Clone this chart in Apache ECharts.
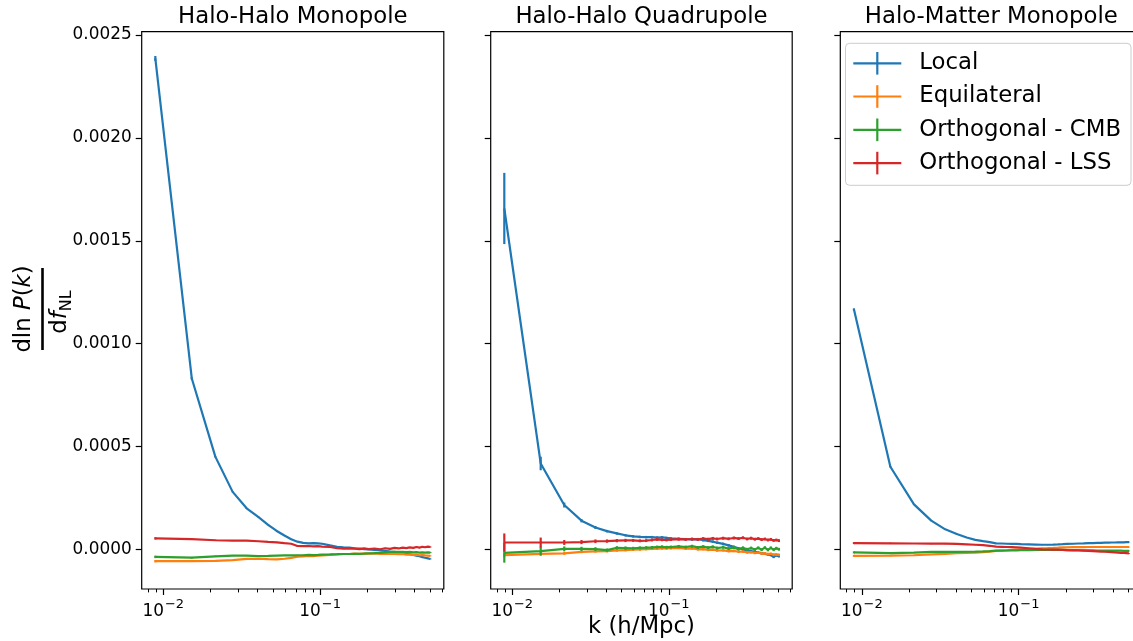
<!DOCTYPE html>
<html><head><meta charset="utf-8">
<script src="https://cdn.jsdelivr.net/npm/echarts@6/dist/echarts.min.js"></script>
<style>html,body{margin:0;padding:0;background:#fff}#c{width:1133px;height:641px}</style>
</head><body><div id="c"></div>
<script>
// ---------------- data ----------------
const kValues = [0.0089, 0.0152, 0.0215, 0.0277, 0.0340, 0.0403, 0.0466, 0.0529, 0.0592, 0.0654,
  0.0717, 0.0780, 0.0843, 0.0906, 0.0968, 0.1031, 0.1157, 0.1282, 0.1408, 0.1534,
  0.1659, 0.1785, 0.1910, 0.2036, 0.2224, 0.2413, 0.2601, 0.2790, 0.2978, 0.3167,
  0.3355, 0.3544, 0.3732, 0.3921, 0.4109, 0.4298, 0.4486, 0.4675, 0.4863, 0.5052];
const panelTitles = ['Halo-Halo Monopole', 'Halo-Halo Quadrupole', 'Halo-Matter Monopole'];
const seriesNames = ['Local', 'Equilateral', 'Orthogonal - CMB', 'Orthogonal - LSS'];
const yTickValues = [0, 0.0005, 0.0010, 0.0015, 0.0020, 0.0025];
const xMajorTicks = [0.01, 0.1];
const xMinorTicks = [0.008, 0.009, 0.02, 0.03, 0.04, 0.05, 0.06, 0.07, 0.08, 0.09, 0.2, 0.3, 0.4, 0.5, 0.6];

// Panel 1: Halo-Halo Monopole
const hhMonoLocal = [0.002386, 0.000831, 0.000450, 0.000280, 0.000200, 0.000158, 0.000120, 0.000090, 0.000068, 0.000050,
  0.000038, 0.000032, 0.000030, 0.000031, 0.000030, 0.000028, 0.000020, 0.000013, 0.000010, 0.000009,
  0.000006, 0.000004, 0.000002, 0.000000, -0.000002, -0.000004, -0.000007, -0.000010, -0.000012, -0.000015,
  -0.000017, -0.000020, -0.000023, -0.000027, -0.000030, -0.000033, -0.000037, -0.000040, -0.000043, -0.000046];
const hhMonoEquil = [-0.000057, -0.000057, -0.000055, -0.000052, -0.000046, -0.000045, -0.000047, -0.000048, -0.000045, -0.000041,
  -0.000035, -0.000034, -0.000031, -0.000032, -0.000030, -0.000029, -0.000026, -0.000024, -0.000022, -0.000022,
  -0.000020, -0.000021, -0.000019, -0.000020, -0.000019, -0.000021, -0.000020, -0.000022, -0.000021, -0.000023,
  -0.000022, -0.000025, -0.000024, -0.000026, -0.000025, -0.000028, -0.000027, -0.000029, -0.000030, -0.000031];
const hhMonoOrthoCMB = [-0.000036, -0.000040, -0.000033, -0.000030, -0.000030, -0.000032, -0.000031, -0.000030, -0.000029, -0.000029,
  -0.000028, -0.000028, -0.000026, -0.000027, -0.000026, -0.000025, -0.000024, -0.000023, -0.000022, -0.000022,
  -0.000021, -0.000021, -0.000020, -0.000019, -0.000018, -0.000016, -0.000014, -0.000012, -0.000011, -0.000012,
  -0.000011, -0.000013, -0.000012, -0.000014, -0.000013, -0.000015, -0.000014, -0.000015, -0.000014, -0.000015];
const hhMonoOrthoLSS = [0.000054, 0.000050, 0.000045, 0.000043, 0.000043, 0.000040, 0.000037, 0.000035, 0.000031, 0.000028,
  0.000017, 0.000016, 0.000017, 0.000015, 0.000016, 0.000014, 0.000012, 0.000006, 0.000004, 0.000005,
  0.000004, 0.000002, 0.000005, 0.000002, 0.000004, 0.000001, 0.000006, 0.000003, 0.000008, 0.000005,
  0.000009, 0.000007, 0.000010, 0.000008, 0.000012, 0.000009, 0.000013, 0.000011, 0.000014, 0.000012];
const hhMonoLocalErr = [0.000012, 0.000005, 0.000003, 0.000002, 0.000002, 0.000002, 0.000002, 0.000002, 0.000002, 0.000002,
  0.000002, 0.000002, 0.000002, 0.000002, 0.000002, 0.000002, 0.000002, 0.000002, 0.000002, 0.000002,
  0.000002, 0.000002, 0.000002, 0.000002, 0.000002, 0.000002, 0.000002, 0.000002, 0.000002, 0.000002,
  0.000002, 0.000002, 0.000002, 0.000002, 0.000002, 0.000002, 0.000002, 0.000002, 0.000002, 0.000002];
const hhMonoOtherErr = [0.000006, 0.000004, 0.000003, 0.000002, 0.000002, 0.000002, 0.000002, 0.000002, 0.000002, 0.000002,
  0.000002, 0.000002, 0.000002, 0.000002, 0.000002, 0.000002, 0.000002, 0.000002, 0.000002, 0.000002,
  0.000002, 0.000002, 0.000002, 0.000002, 0.000002, 0.000002, 0.000002, 0.000002, 0.000002, 0.000002,
  0.000002, 0.000002, 0.000002, 0.000002, 0.000002, 0.000002, 0.000002, 0.000002, 0.000002, 0.000002];

// Panel 2: Halo-Halo Quadrupole
const hhQuadLocal = [0.001657, 0.000418, 0.000216, 0.000140, 0.000107, 0.000089, 0.000078, 0.000069, 0.000064, 0.000061,
  0.000060, 0.000060, 0.000058, 0.000059, 0.000056, 0.000054, 0.000052, 0.000050, 0.000049, 0.000050,
  0.000045, 0.000042, 0.000038, 0.000033, 0.000027, 0.000020, 0.000013, 0.000006, 0.000000, -0.000004,
  -0.000008, -0.000011, -0.000015, -0.000018, -0.000021, -0.000024, -0.000027, -0.000036, -0.000029, -0.000033];
const hhQuadEquil = [-0.000027, -0.000021, -0.000019, -0.000012, -0.000009, -0.000008, -0.000005, -0.000003, -0.000001, 0.000000,
  0.000002, 0.000003, 0.000004, 0.000005, 0.000005, 0.000006, 0.000008, 0.000004, 0.000005, 0.000001,
  0.000002, -0.000002, -0.000001, -0.000005, -0.000004, -0.000008, -0.000007, -0.000011, -0.000010, -0.000014,
  -0.000013, -0.000017, -0.000016, -0.000020, -0.000019, -0.000022, -0.000021, -0.000025, -0.000024, -0.000026];
const hhQuadOrthoCMB = [-0.000016, -0.000008, 0.000003, 0.000003, 0.000002, -0.000003, 0.000008, 0.000007, 0.000006, 0.000008,
  0.000009, 0.000010, 0.000012, 0.000013, 0.000011, 0.000012, 0.000015, 0.000012, 0.000016, 0.000010,
  0.000014, 0.000009, 0.000013, 0.000007, 0.000011, 0.000004, 0.000009, 0.000002, 0.000008, 0.000001,
  0.000007, 0.000000, 0.000008, -0.000001, 0.000009, -0.000002, 0.000008, -0.000001, 0.000006, 0.000001];
const hhQuadOrthoLSS = [0.000034, 0.000034, 0.000034, 0.000036, 0.000040, 0.000041, 0.000043, 0.000044, 0.000044, 0.000042,
  0.000043, 0.000046, 0.000049, 0.000047, 0.000046, 0.000048, 0.000050, 0.000049, 0.000051, 0.000049,
  0.000053, 0.000050, 0.000054, 0.000051, 0.000055, 0.000052, 0.000056, 0.000053, 0.000057, 0.000051,
  0.000055, 0.000050, 0.000053, 0.000048, 0.000051, 0.000046, 0.000049, 0.000044, 0.000046, 0.000043];
const hhQuadLocalErr = [0.000173, 0.000033, 0.000012, 0.000008, 0.000007, 0.000006, 0.000006, 0.000006, 0.000006, 0.000006,
  0.000006, 0.000006, 0.000006, 0.000006, 0.000006, 0.000006, 0.000006, 0.000006, 0.000006, 0.000006,
  0.000006, 0.000006, 0.000006, 0.000006, 0.000006, 0.000006, 0.000006, 0.000006, 0.000006, 0.000006,
  0.000006, 0.000006, 0.000006, 0.000006, 0.000006, 0.000006, 0.000006, 0.000006, 0.000006, 0.000006];
const hhQuadEquilErr = [0.000010, 0.000008, 0.000007, 0.000006, 0.000006, 0.000006, 0.000006, 0.000006, 0.000006, 0.000006,
  0.000006, 0.000006, 0.000006, 0.000006, 0.000006, 0.000006, 0.000006, 0.000006, 0.000006, 0.000006,
  0.000006, 0.000006, 0.000006, 0.000006, 0.000006, 0.000006, 0.000006, 0.000006, 0.000006, 0.000006,
  0.000006, 0.000006, 0.000006, 0.000006, 0.000006, 0.000006, 0.000006, 0.000006, 0.000006, 0.000006];
const hhQuadOrthoCMBErr = [0.000048, 0.000022, 0.000012, 0.000010, 0.000009, 0.000008, 0.000008, 0.000008, 0.000007, 0.000007,
  0.000007, 0.000007, 0.000007, 0.000007, 0.000007, 0.000007, 0.000007, 0.000007, 0.000007, 0.000007,
  0.000007, 0.000007, 0.000007, 0.000007, 0.000007, 0.000007, 0.000007, 0.000007, 0.000007, 0.000007,
  0.000007, 0.000007, 0.000007, 0.000007, 0.000007, 0.000007, 0.000007, 0.000007, 0.000007, 0.000007];
const hhQuadOrthoLSSErr = [0.000044, 0.000024, 0.000012, 0.000010, 0.000009, 0.000008, 0.000008, 0.000008, 0.000007, 0.000007,
  0.000007, 0.000007, 0.000007, 0.000007, 0.000007, 0.000007, 0.000007, 0.000007, 0.000007, 0.000007,
  0.000007, 0.000007, 0.000007, 0.000007, 0.000007, 0.000007, 0.000007, 0.000007, 0.000007, 0.000007,
  0.000007, 0.000007, 0.000007, 0.000007, 0.000007, 0.000007, 0.000007, 0.000007, 0.000007, 0.000007];

// Panel 3: Halo-Matter Monopole
const hmMonoLocal = [0.001167, 0.000402, 0.000219, 0.000140, 0.000098, 0.000075, 0.000058, 0.000047, 0.000041, 0.000036,
  0.000030, 0.000029, 0.000028, 0.000027, 0.000027, 0.000026, 0.000025, 0.000024, 0.000023, 0.000023,
  0.000024, 0.000025, 0.000026, 0.000027, 0.000028, 0.000029, 0.000030, 0.000031, 0.000031, 0.000032,
  0.000032, 0.000033, 0.000033, 0.000034, 0.000034, 0.000035, 0.000035, 0.000035, 0.000036, 0.000036];
const hmMonoEquil = [-0.000031, -0.000030, -0.000028, -0.000024, -0.000021, -0.000018, -0.000016, -0.000015, -0.000013, -0.000010,
  -0.000007, -0.000005, -0.000004, -0.000002, -0.000001, 0.000000, 0.000002, 0.000004, 0.000006, 0.000007,
  0.000008, 0.000009, 0.000010, 0.000010, 0.000011, 0.000011, 0.000011, 0.000012, 0.000012, 0.000012,
  0.000012, 0.000012, 0.000012, 0.000012, 0.000012, 0.000012, 0.000012, 0.000012, 0.000012, 0.000012];
const hmMonoOrthoCMB = [-0.000014, -0.000018, -0.000015, -0.000012, -0.000011, -0.000012, -0.000011, -0.000010, -0.000009, -0.000008,
  -0.000006, -0.000006, -0.000005, -0.000004, -0.000004, -0.000003, -0.000003, -0.000002, -0.000002, -0.000002,
  -0.000002, -0.000002, -0.000002, -0.000003, -0.000003, -0.000003, -0.000004, -0.000004, -0.000004, -0.000005,
  -0.000005, -0.000005, -0.000005, -0.000006, -0.000006, -0.000006, -0.000006, -0.000007, -0.000007, -0.000007];
const hmMonoOrthoLSS = [0.000031, 0.000030, 0.000029, 0.000028, 0.000028, 0.000027, 0.000025, 0.000023, 0.000021, 0.000018,
  0.000014, 0.000013, 0.000012, 0.000011, 0.000010, 0.000009, 0.000006, 0.000003, 0.000001, 0.000000,
  -0.000001, -0.000001, -0.000002, -0.000003, -0.000004, -0.000005, -0.000006, -0.000007, -0.000008, -0.000009,
  -0.000010, -0.000011, -0.000012, -0.000013, -0.000014, -0.000015, -0.000016, -0.000017, -0.000018, -0.000019];
const hmMonoErr = [0.000005, 0.000003, 0.000002, 0.000002, 0.000002, 0.000002, 0.000002, 0.000002, 0.000002, 0.000002,
  0.000002, 0.000002, 0.000002, 0.000002, 0.000002, 0.000002, 0.000002, 0.000002, 0.000002, 0.000002,
  0.000002, 0.000002, 0.000002, 0.000002, 0.000002, 0.000002, 0.000002, 0.000002, 0.000002, 0.000002,
  0.000002, 0.000002, 0.000002, 0.000002, 0.000002, 0.000002, 0.000002, 0.000002, 0.000002, 0.000002];

// ---------------- layout / style ----------------
const COLORS = ['#1f77b4', '#ff7f0e', '#2ca02c', '#d62728'];
const FONT = '"DejaVu Sans", "Liberation Sans", sans-serif';
const X_MIN = 0.007286, X_MAX = 0.6144;
const Y_MIN = -0.000192, Y_MAX = 0.002516;
const GRIDS = [
  { left: 141.7, top: 31.7, width: 302.1, height: 557.3 },
  { left: 490.7, top: 31.7, width: 301.5, height: 557.3 },
  { left: 840.3, top: 31.7, width: 302.0, height: 557.3 }
];
const panels = [
  { vals: [hhMonoLocal, hhMonoEquil, hhMonoOrthoCMB, hhMonoOrthoLSS],
    errs: [hhMonoLocalErr, hhMonoOtherErr, hhMonoOtherErr, hhMonoOtherErr] },
  { vals: [hhQuadLocal, hhQuadEquil, hhQuadOrthoCMB, hhQuadOrthoLSS],
    errs: [hhQuadLocalErr, hhQuadEquilErr, hhQuadOrthoCMBErr, hhQuadOrthoLSSErr] },
  { vals: [hmMonoLocal, hmMonoEquil, hmMonoOrthoCMB, hmMonoOrthoLSS],
    errs: [hmMonoErr, hmMonoErr, hmMonoErr, hmMonoErr] }
];
const LW = 2.2;

const chart = echarts.init(document.getElementById('c'), null, { renderer: 'canvas' });

const grid = GRIDS.map(g => Object.assign({
  show: true, borderColor: '#000', borderWidth: 1.2, backgroundColor: 'transparent',
  containLabel: false, outerBoundsMode: 'none'
}, g));

const xAxis = [];
const yAxis = [];
GRIDS.forEach((g, gi) => {
  xAxis.push({
    type: 'log', logBase: 10, gridIndex: gi, min: X_MIN, max: X_MAX, position: 'bottom', offset: 0,
    axisLine: { show: false, onZero: false },
    splitLine: { show: false },
    axisTick: { show: true, inside: false, length: 6, customValues: xMajorTicks,
      lineStyle: { color: '#000', width: 1.2 } },
    axisLabel: {
      show: true, margin: 9, customValues: xMajorTicks,
      formatter: v => '{b|10}{s|\u2212' + Math.round(-Math.log10(v)) + '}',
      rich: {
        b: { fontSize: 16.9, fontFamily: FONT, color: '#000', lineHeight: 22, verticalAlign: 'bottom' },
        s: { fontSize: 13, fontFamily: FONT, color: '#000', lineHeight: 13, verticalAlign: 'top', padding: [0, 0, 0, 1] }
      }
    }
  });
  xAxis.push({
    type: 'log', logBase: 10, gridIndex: gi, min: X_MIN, max: X_MAX, position: 'bottom', offset: 0,
    axisLine: { show: false, onZero: false }, splitLine: { show: false },
    axisTick: { show: true, inside: false, length: 3.4, customValues: xMinorTicks,
      lineStyle: { color: '#000', width: 1 } },
    axisLabel: { show: false }
  });
  yAxis.push({
    type: 'value', gridIndex: gi, min: Y_MIN, max: Y_MAX, position: 'left',
    axisLine: { show: false, onZero: false }, splitLine: { show: false },
    axisTick: { show: true, inside: false, length: 6, customValues: yTickValues,
      lineStyle: { color: '#000', width: 1.2 } },
    axisLabel: { show: gi === 0, margin: 10, customValues: yTickValues,
      formatter: v => v.toFixed(4),
      fontSize: 16.9, fontFamily: FONT, color: '#000' }
  });
});

const series = [];
panels.forEach((p, gi) => {
  p.vals.forEach((vals, si) => {
    const errs = p.errs[si];
    series.push({
      type: 'line', name: seriesNames[si], xAxisIndex: gi * 2, yAxisIndex: gi,
      data: kValues.map((k, i) => [k, vals[i]]),
      showSymbol: false, symbol: 'none', smooth: false,
      lineStyle: { color: COLORS[si], width: LW }, itemStyle: { color: COLORS[si] },
      z: 2 + si * 2, animation: false, silent: true
    });
    series.push({
      type: 'custom', name: seriesNames[si] + ' err', xAxisIndex: gi * 2, yAxisIndex: gi,
      data: kValues.map((k, i) => [k, vals[i] - errs[i], vals[i] + errs[i]]),
      encode: { x: 0, y: [1, 2] },
      renderItem: (params, api) => {
        const a = api.coord([api.value(0), api.value(1)]);
        const b = api.coord([api.value(0), api.value(2)]);
        return { type: 'line', shape: { x1: a[0], y1: a[1], x2: b[0], y2: b[1] },
          style: { stroke: COLORS[si], lineWidth: LW } };
      },
      z: 3 + si * 2, animation: false, silent: true
    });
  });
});

// titles, axis labels, legend as graphic text
const graphic = [];
GRIDS.forEach((g, gi) => {
  graphic.push({ type: 'text', x: g.left + g.width / 2, y: 17, silent: true,
    style: { text: panelTitles[gi], fill: '#000', font: '22.8px ' + FONT,
      align: 'center', verticalAlign: 'middle', textAlign: 'center', textVerticalAlign: 'middle' } });
});
graphic.push({ type: 'text', x: GRIDS[1].left + GRIDS[1].width / 2, y: 627, silent: true,
  style: { text: 'k (h/Mpc)', fill: '#000', font: '22.8px ' + FONT,
    align: 'center', verticalAlign: 'middle', textAlign: 'center', textVerticalAlign: 'middle' } });

// y label: d ln P(k) / d f_NL
const richY = {
  n: { fontSize: 22.8, fontFamily: FONT, fill: '#000', lineHeight: 28, verticalAlign: 'middle' },
  i: { fontSize: 22.8, fontFamily: FONT, fontStyle: 'italic', fill: '#000', lineHeight: 28, verticalAlign: 'middle' },
  s: { fontSize: 16, fontFamily: FONT, fill: '#000', lineHeight: 16, verticalAlign: 'bottom' }
};
graphic.push({
  type: 'group', x: 42.5, y: 309, rotation: Math.PI / 2, silent: true,
  children: [
    { type: 'text', x: 0, y: -18,
      style: { text: '{n|dln }{i|P}{n|(}{i|k}{n|)}', rich: richY,
        align: 'center', verticalAlign: 'middle', textAlign: 'center', textVerticalAlign: 'middle' } },
    { type: 'rect', shape: { x: -41, y: -1.3, width: 82, height: 2.6 }, style: { fill: '#000' } },
    { type: 'text', x: -3, y: 18,
      style: { text: '{n|d}{i|f}{s|NL}', rich: richY,
        align: 'center', verticalAlign: 'middle', textAlign: 'center', textVerticalAlign: 'middle' } }
  ]
});

// legend
const LEG = { x: 845.5, y: 43.3, w: 285.5, h: 142 };
graphic.push({ type: 'rect', shape: { x: LEG.x, y: LEG.y, width: LEG.w, height: LEG.h, r: 4 }, silent: true,
  style: { fill: 'rgba(255,255,255,0.8)', stroke: '#cccccc', lineWidth: 1 }, z: 100 });
const legendRowY = [63.3, 96.5, 129.8, 163.1];
seriesNames.forEach((name, si) => {
  const cy = legendRowY[si];
  graphic.push({ type: 'line', shape: { x1: 853.3, y1: cy, x2: 901.3, y2: cy }, silent: true,
    style: { stroke: COLORS[si], lineWidth: LW }, z: 101 });
  graphic.push({ type: 'line', shape: { x1: 877.3, y1: cy - 11.3, x2: 877.3, y2: cy + 11.3 }, silent: true,
    style: { stroke: COLORS[si], lineWidth: LW }, z: 101 });
  graphic.push({ type: 'text', x: 919.3, y: cy, silent: true, z: 101,
    style: { text: name, fill: '#000', font: '22.8px ' + FONT,
      align: 'left', verticalAlign: 'middle', textAlign: 'left', textVerticalAlign: 'middle' } });
});

chart.setOption({
  animation: false,
  backgroundColor: '#fff',
  grid, xAxis, yAxis, series, graphic
});
</script>
</body></html>
